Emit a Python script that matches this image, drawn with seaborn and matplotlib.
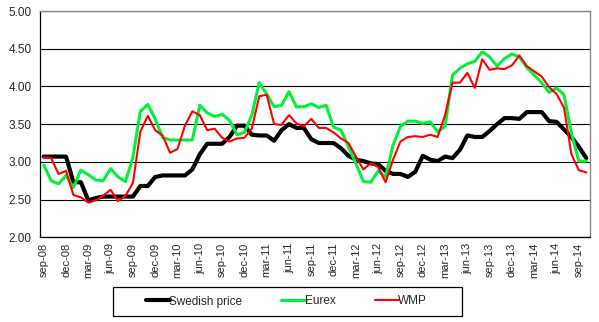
import numpy as np
import pandas as pd
import matplotlib
matplotlib.use("Agg")
import matplotlib.pyplot as plt
from matplotlib.patches import Rectangle
import seaborn as sns

swedish = [3.07, 3.07, 3.07, 3.07, 2.73, 2.73, 2.49, 2.52, 2.54, 2.54, 2.54, 2.54, 2.54,
           2.68, 2.68, 2.80, 2.82, 2.82, 2.82, 2.82, 2.90, 3.10, 3.24, 3.24, 3.24, 3.33, 3.48,
           3.48, 3.36, 3.35, 3.35, 3.28, 3.42, 3.50, 3.45, 3.45, 3.30, 3.25, 3.25, 3.25, 3.18,
           3.08, 3.03, 3.01, 2.98, 2.97, 2.88, 2.84, 2.84, 2.80, 2.87,
           3.08, 3.03, 3.01, 3.07, 3.05, 3.16, 3.35, 3.33, 3.33, 3.41, 3.50, 3.58, 3.58, 3.57,
           3.66, 3.66, 3.66, 3.54, 3.53, 3.43, 3.33, 3.20, 3.05]
eurex = [2.96, 2.75, 2.71, 2.82, 2.66, 2.89, 2.83, 2.76, 2.75, 2.91, 2.80, 2.74, 3.06,
         3.67, 3.76, 3.57, 3.32, 3.29, 3.29, 3.29, 3.29, 3.75, 3.65, 3.60, 3.63, 3.55, 3.36,
         3.39, 3.62, 4.05, 3.90, 3.73, 3.75, 3.93, 3.73, 3.73, 3.77, 3.72, 3.75, 3.46, 3.42,
         3.20, 2.98, 2.74, 2.73, 2.88, 2.80, 3.22, 3.47, 3.54, 3.54,
         3.51, 3.53, 3.40, 3.47, 4.15, 4.24, 4.30, 4.33, 4.46, 4.39, 4.27, 4.37, 4.43, 4.39,
         4.25, 4.15, 4.05, 3.92, 3.98, 3.89, 3.38, 3.01, 3.01]
wmp = [3.06, 3.05, 2.84, 2.88, 2.56, 2.53, 2.46, 2.49, 2.55, 2.63, 2.48, 2.55, 2.72,
       3.40, 3.61, 3.42, 3.35, 3.12, 3.17, 3.48, 3.67, 3.62, 3.42, 3.44, 3.32, 3.27, 3.31,
       3.32, 3.44, 3.87, 3.89, 3.50, 3.49, 3.62, 3.51, 3.47, 3.57, 3.45, 3.45, 3.39, 3.31,
       3.25, 3.07, 2.90, 2.98, 2.93, 2.73, 3.03, 3.27, 3.33, 3.34,
       3.33, 3.36, 3.33, 3.62, 4.05, 4.05, 4.18, 3.98, 4.36, 4.22, 4.24, 4.23, 4.28, 4.41,
       4.27, 4.20, 4.13, 3.99, 3.90, 3.72, 3.10, 2.89, 2.86]
tick_labels = ["sep-08", "dec-08", "mar-09", "jun-09", "sep-09", "dec-09", "mar-10", "jun-10",
               "sep-10", "dec-10", "mar-11", "jun-11", "sep-11", "dec-11", "mar-12", "jun-12",
               "sep-12", "dec-12", "mar-13", "jun-13", "sep-13", "dec-13", "mar-14", "jun-14",
               "sep-14"]
y_ticks = [2.00, 2.50, 3.00, 3.50, 4.00, 4.50, 5.00]

sns.set_theme(style="white")
plt.rcParams['font.family'] = ['Liberation Sans', 'DejaVu Sans']

n = len(swedish)
df = pd.DataFrame({"month": np.arange(n), "Swedish price": swedish, "Eurex": eurex, "WMP": wmp})

fig = plt.figure(figsize=(5.99, 3.22), dpi=100)
ax = fig.add_axes([40/599, 1-237.3/322, 550/599, (237.3-11)/322])

styles = [("Swedish price", "#000000", 3.0), ("Eurex", "#00F03C", 2.2), ("WMP", "#FF0000", 1.5)]
for name, col, lw in styles:
    sns.lineplot(data=df, x="month", y=name, color=col, linewidth=lw, ax=ax, label=name,
                 zorder=3 if name != "Swedish price" else 2)

ax.set_xlim(-0.5, n - 0.5)
ax.set_ylim(2.0, 5.0)
ax.set_yticks(y_ticks)
ax.set_yticklabels([f"{v:.2f}" for v in y_ticks], fontsize=8.5)
ax.yaxis.grid(True, color="black", linewidth=0.8)
ax.set_axisbelow(True)

pos = np.arange(0, n, 3)[:len(tick_labels)]
ax.set_xticks(pos)
ax.set_xticklabels(tick_labels, rotation=90, fontsize=8)
ax.set_xticks(np.arange(-0.5, n, 3), minor=True)
ax.tick_params(axis="x", which="major", length=0, pad=4)
ax.tick_params(axis="x", which="minor", length=5, width=0.8, color="black", direction="out")
ax.tick_params(axis="y", which="major", length=4, width=0.8, color="black", direction="out", pad=2)
ax.set_xlabel("")
ax.set_ylabel("")

for s in ["left", "bottom"]:
    ax.spines[s].set_color("black")
    ax.spines[s].set_linewidth(0.9)
for s in ["top", "right"]:
    ax.spines[s].set_color("#888888")
    ax.spines[s].set_linewidth(1.0)

ax.get_legend().remove()
handles, labels = ax.get_legend_handles_labels()
fig.patches.append(Rectangle((113/599, 1-316/322), (462-113)/599, (316-287)/322,
                             transform=fig.transFigure, facecolor="white",
                             edgecolor="black", linewidth=0.9))
fig.legend(handles, labels, loc="center", bbox_to_anchor=(0.478, 1-301.5/322), ncol=3,
           frameon=False, fontsize=8.5, handlelength=2.1, handletextpad=-0.1,
           columnspacing=3.3)

fig.savefig("out.png", dpi=100)
